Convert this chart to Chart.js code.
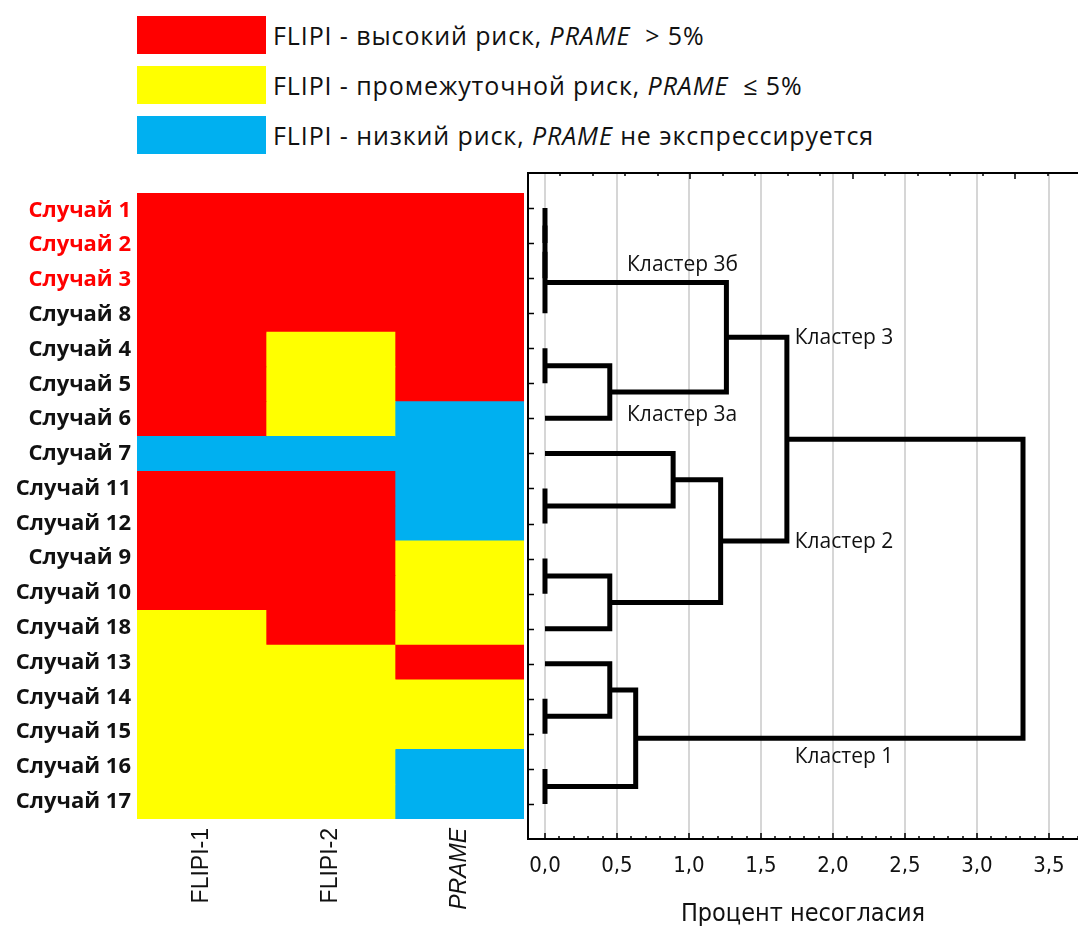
<!DOCTYPE html>
<html lang="ru">
<head>
<meta charset="utf-8">
<title>FLIPI / PRAME — кластерный анализ</title>
<script src="https://cdn.jsdelivr.net/npm/chart.js@4.4.1/dist/chart.umd.min.js"></script>
<style>
  html, body { margin: 0; padding: 0; background: #fff; }
  #page { position: relative; width: 1078px; height: 933px; overflow: hidden; }
  #legend { position: absolute; left: 137px; top: 16px; font-family: "Open Sans", sans-serif; font-size: 25px; letter-spacing: 0.9px; color: #111; }
  .legend-row { display: flex; align-items: center; height: 38px; margin-bottom: 12px; white-space: pre; }
  .legend-swatch { width: 129px; height: 38px; margin-right: 7px; flex: none; }
  #heatWrap { position: absolute; left: 0; top: 193px; width: 524px; height: 740px; }
  #treeWrap { position: absolute; left: 520px; top: 165px; width: 558px; height: 768px; }
</style>
</head>
<body>
<div id="page">
  <div id="legend"></div>
  <div id="heatWrap"><canvas id="heatmap"></canvas></div>
  <div id="treeWrap"><canvas id="tree"></canvas></div>
</div>
<script>
// rows in dendrogram order
const cases = ['Случай 1', 'Случай 2', 'Случай 3', 'Случай 8', 'Случай 4', 'Случай 5',
  'Случай 6', 'Случай 7', 'Случай 11', 'Случай 12', 'Случай 9', 'Случай 10',
  'Случай 18', 'Случай 13', 'Случай 14', 'Случай 15', 'Случай 16', 'Случай 17'];
const highlighted = ['Случай 1', 'Случай 2', 'Случай 3'];

const columns = ['FLIPI-1', 'FLIPI-2', 'PRAME'];
// H = высокий, M = промежуточный, L = низкий
const flipi1 = ['H','H','H','H','H','H','H','L','H','H','H','H','M','M','M','M','M','M'];
const flipi2 = ['H','H','H','H','M','M','M','L','H','H','H','H','H','M','M','M','M','M'];
const prame  = ['H','H','H','H','H','H','L','L','L','L','M','M','M','H','M','M','L','L'];

const riskLevels = ['H', 'M', 'L'];
const riskColors = { H: '#ff0000', M: '#ffff00', L: '#00b0f0' };
const legendRisk = ['высокий риск', 'промежуточной риск', 'низкий риск'];
const legendPrame = [' > 5%', ' ≤ 5%', 'не экспрессируется'];

// joins: [a, b, distance]; ids 0-17 are rows, join k gets id 18 + k
const joins = [
  [0, 1, 0], [18, 2, 0], [19, 3, 0],        // кластер 3б
  [4, 5, 0], [21, 6, 0.45],                 // кластер 3а
  [20, 22, 1.26],                           // кластер 3
  [8, 9, 0], [7, 24, 0.89],
  [10, 11, 0], [26, 12, 0.45],
  [25, 27, 1.22],                           // кластер 2
  [23, 28, 1.68],
  [14, 15, 0], [13, 30, 0.45],
  [16, 17, 0], [31, 32, 0.63],              // кластер 1
  [29, 33, 3.32]
];
const distTicks = [0, 0.5, 1, 1.5, 2, 2.5, 3, 3.5];

// where the cluster names sit (distance, row)
const tagPlacement = [
  { text: 'Кластер 3б', x: 0.57, y: 1.62 },
  { text: 'Кластер 3а', x: 0.57, y: 5.9 },
  { text: 'Кластер 3', x: 1.735, y: 3.72 },
  { text: 'Кластер 2', x: 1.735, y: 9.52 },
  { text: 'Кластер 1', x: 1.735, y: 15.66 }
];

// legend
const legendEl = document.getElementById('legend');
riskLevels.forEach((r, i) => {
  const row = document.createElement('div');
  row.className = 'legend-row';
  const sw = document.createElement('div');
  sw.className = 'legend-swatch';
  sw.style.background = riskColors[r];
  const txt = document.createElement('span');
  txt.append('FLIPI - ' + legendRisk[i] + ', ');
  const it = document.createElement('i');
  it.textContent = 'PRAME';
  txt.append(it, ' ' + legendPrame[i]);
  row.append(sw, txt);
  legendEl.append(row);
});

const labelFont = '"Open Sans", "Noto Sans", sans-serif';
const narrowFont = '"Liberation Sans Narrow", "DejaVu Sans Condensed", "Liberation Sans", sans-serif';

// drop the automatic label overhang so the plot areas stay where they are placed
const noPad = s => { s.paddingTop = 0; s.paddingBottom = 0; s.paddingLeft = 0; s.paddingRight = 0; };

// heatmap: one floating bar per cell
new Chart(document.getElementById('heatmap'), {
  type: 'bar',
  data: {
    labels: cases,
    datasets: [flipi1, flipi2, prame].map((col, c) => ({
      label: columns[c],
      data: col.map(() => [c, c + 1]),
      backgroundColor: col.map(r => riskColors[r]),
      borderWidth: 0,
      barPercentage: 1,
      categoryPercentage: 1,
      grouped: false
    }))
  },
  options: {
    indexAxis: 'y',
    responsive: true,
    maintainAspectRatio: false,
    animation: false,
    layout: { padding: 0 },
    plugins: { legend: { display: false }, tooltip: { enabled: false } },
    scales: {
      x: {
        type: 'linear', min: 0, max: columns.length,
        grid: { display: false, drawTicks: false },
        border: { display: false },
        afterBuildTicks: s => { s.ticks = columns.map((_, i) => ({ value: i + 0.5 })); },
        afterFit: s => { s.height = 114; noPad(s); },
        ticks: {
          minRotation: 90, maxRotation: 90, padding: 9, color: '#111',
          callback: (v, i) => columns[i],
          font: ctx => ({
            family: '"Liberation Sans", Arial, sans-serif', size: 23,
            style: columns[ctx.index] === 'PRAME' ? 'italic' : 'normal'
          })
        }
      },
      y: {
        grid: { display: false, drawTicks: false },
        border: { display: false },
        afterFit: s => { s.width = 137; noPad(s); },
        ticks: {
          padding: 6,
          color: ctx => highlighted.includes(cases[ctx.index]) ? '#ff0000' : '#111',
          font: { family: labelFont, size: 22, weight: 'bold' }
        }
      }
    }
  }
});

// dendrogram branches built from the joins
const pos = cases.map((_, i) => i);
const height = cases.map(() => 0);
const branches = joins.map(([a, b, h]) => {
  const pts = [
    { x: height[a], y: pos[a] }, { x: h, y: pos[a] },
    { x: h, y: pos[b] }, { x: height[b], y: pos[b] }
  ];
  pos.push((pos[a] + pos[b]) / 2);
  height.push(h);
  return pts;
});

// short inward marks on the frame
const insideTicks = {
  id: 'insideTicks',
  afterDraw(chart) {
    const { ctx, chartArea: a, scales } = chart;
    ctx.save();
    ctx.strokeStyle = '#000';
    ctx.lineWidth = 1.5;
    ctx.beginPath();
    cases.forEach((_, i) => {
      const y = Math.round(scales.y.getPixelForValue(i)) + 0.5;
      ctx.moveTo(a.left, y); ctx.lineTo(a.left + 6, y);
    });
    for (let k = 0; k < 40; k++) {
      const x = Math.round(scales.x.getPixelForValue(k / 10));
      if (x > a.right) break;
      ctx.moveTo(x, a.bottom); ctx.lineTo(x, a.bottom - (k % 5 === 0 ? 6 : 3));
    }
    for (let k = 1; k < 40; k++) {
      const x = Math.round(scales.x2.getPixelForValue(k / 5));
      if (x > a.right) break;
      ctx.moveTo(x, a.top); ctx.lineTo(x, a.top + (k % 5 === 0 ? 6 : 3));
    }
    ctx.stroke();
    ctx.restore();
  }
};

const clusterTags = {
  id: 'clusterTags',
  afterDraw(chart) {
    const { ctx, scales } = chart;
    ctx.save();
    ctx.font = '21px ' + labelFont;
    ctx.fillStyle = '#111';
    ctx.textAlign = 'left';
    ctx.textBaseline = 'middle';
    tagPlacement.forEach(t => {
      ctx.fillText(t.text, scales.x.getPixelForValue(t.x), scales.y.getPixelForValue(t.y));
    });
    ctx.restore();
  }
};

new Chart(document.getElementById('tree'), {
  type: 'scatter',
  data: {
    datasets: branches.map(pts => ({
      data: pts,
      showLine: true,
      borderColor: '#000',
      borderWidth: 5,
      borderJoinStyle: 'miter',
      borderCapStyle: 'butt',
      pointRadius: 0,
      fill: false
    }))
  },
  options: {
    responsive: true,
    maintainAspectRatio: false,
    animation: false,
    layout: { padding: 0 },
    plugins: { legend: { display: false }, tooltip: { enabled: false } },
    scales: {
      x: {
        type: 'linear', position: 'bottom', min: -0.118, max: 3.702,
        afterBuildTicks: s => { s.ticks = distTicks.map(v => ({ value: v })); },
        afterFit: s => { s.height = 94; noPad(s); },
        ticks: {
          padding: 14, color: '#111',
          font: { family: narrowFont, size: 22 },
          callback: v => v.toFixed(1).replace('.', ',')
        },
        grid: { color: '#d6d6d6', lineWidth: 2, drawTicks: false },
        border: { color: '#000', width: 2 },
        title: {
          display: true, text: 'Процент несогласия', color: '#111',
          font: { family: narrowFont, size: 25 },
          padding: { top: 0, bottom: 4 }
        }
      },
      x2: {
        type: 'linear', position: 'top', min: 0, max: 3.385,
        ticks: { display: false },
        grid: { drawOnChartArea: false, drawTicks: false },
        border: { color: '#000', width: 2 },
        afterFit: s => { s.height = 8; noPad(s); }
      },
      y: {
        type: 'linear', position: 'left', reverse: true, min: -1, max: 18,
        ticks: { display: false },
        grid: { drawOnChartArea: false, drawTicks: false },
        border: { color: '#000', width: 2 },
        afterFit: s => { s.width = 8; noPad(s); }
      }
    }
  },
  plugins: [insideTicks, clusterTags]
});
</script>
</body>
</html>
